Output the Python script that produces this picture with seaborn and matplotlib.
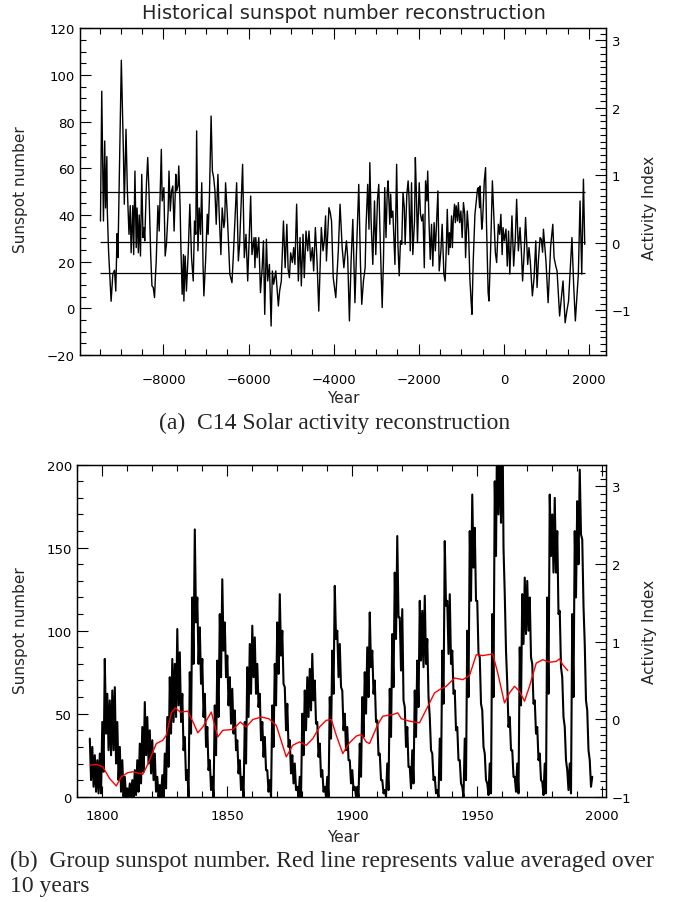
import numpy as np
import pandas as pd
import matplotlib
matplotlib.use("Agg")
import matplotlib.pyplot as plt
import seaborn as sns
from matplotlib.ticker import MultipleLocator

# ---------------------------------------------------------------------------
# (a) C14-based sunspot number reconstruction
# ---------------------------------------------------------------------------
c14_years = [
    -9480, -9450, -9410, -9380, -9360, -9330, -9320, -9290, -9230, -9190,
    -9150, -9120, -9090, -9070, -8990, -8940, -8920, -8880, -8850, -8810,
    -8780, -8760, -8720, -8700, -8670, -8640, -8620, -8590, -8570, -8540,
    -8510, -8480, -8460, -8440, -8400, -8370, -8340, -8300, -8270, -8240,
    -8210, -8190, -8170, -8130, -8100, -8050, -8030, -7990, -7960, -7930,
    -7890, -7870, -7840, -7810, -7780, -7750, -7710, -7690, -7660, -7640,
    -7610, -7590, -7560, -7530, -7520, -7490, -7460, -7420, -7380, -7340,
    -7300, -7270, -7240, -7220, -7190, -7160, -7130, -7100, -7070, -7050,
    -7010, -6970, -6950, -6920, -6880, -6850, -6820, -6790, -6760, -6720,
    -6690, -6650, -6620, -6580, -6560, -6540, -6500, -6440, -6390, -6360,
    -6280, -6240, -6210, -6140, -6100, -6060, -6020, -5990, -5950, -5920,
    -5870, -5850, -5830, -5800, -5760, -5720, -5680, -5650, -5620, -5580,
    -5550, -5510, -5470, -5440, -5410, -5360, -5300, -5270, -5230, -5180,
    -5140, -5100, -5070, -5040, -5010, -4970, -4940, -4910, -4870, -4830,
    -4790, -4760, -4720, -4690, -4650, -4610, -4580, -4540, -4500, -4470,
    -4430, -4390, -4350, -4290, -4250, -4220, -4190, -4170, -4110, -4080,
    -4050, -4010, -3950, -3890, -3850, -3800, -3760, -3700, -3670, -3630,
    -3590, -3550, -3500, -3460, -3410, -3370, -3340, -3300, -3260, -3240,
    -3200, -3170, -3150, -3120, -3080, -3040, -3010, -2970, -2940, -2910,
    -2860, -2830, -2800, -2770, -2740, -2720, -2680, -2660, -2640, -2610,
    -2590, -2560, -2520, -2490, -2460, -2430, -2400, -2370, -2340, -2320,
    -2280, -2250, -2230, -2200, -2170, -2140, -2100, -2080, -2060, -2030,
    -1990, -1960, -1930, -1900, -1870, -1840, -1810, -1790, -1760, -1730,
    -1700, -1670, -1640, -1610, -1580, -1550, -1520, -1480, -1450, -1410,
    -1380, -1350, -1330, -1300, -1280, -1260, -1230, -1210, -1190, -1160,
    -1140, -1120, -1090, -1070, -1040, -1010, -980, -950, -920, -900,
    -860, -830, -800, -770, -750, -720, -680, -620, -600, -570,
    -560, -520, -500, -460, -430, -410, -370, -350, -310, -270,
    -240, -200, -170, -130, -100, -70, -40, -20, 10, 50,
    80, 110, 140, 190, 230, 270, 300, 340, 380, 410,
    440, 480, 510, 560, 590, 620, 670, 710, 750, 780,
    810, 850, 880, 910, 930, 990, 1040, 1100, 1150, 1180,
    1220, 1250, 1310, 1360, 1390, 1440, 1480, 1520, 1600, 1640,
    1680, 1750, 1790, 1830, 1870, 1900,
]
c14_sunspots = [
    37.4, 93.0, 37.4, 71.7, 43.0, 65.0, 42.0, 24.6, 3.0, 14.6,
    16.3, 7.4, 32.0, 21.7, 106.3, 66.0, 44.6, 76.7, 51.7, 31.7,
    44.0, 23.8, 44.0, 23.0, 58.8, 26.0, 43.0, 23.8, 40.0, 22.4,
    57.4, 30.3, 34.6, 28.9, 53.1, 64.6, 50.3, 23.0, 9.6, 8.9,
    4.6, 13.1, 20.3, 44.0, 33.1, 68.1, 46.0, 51.7, 22.4, 27.4,
    41.7, 58.8, 41.7, 50.3, 52.4, 33.1, 57.4, 50.3, 52.4, 61.0,
    44.6, 26.0, 6.0, 23.0, 3.1, 22.4, 7.4, 23.0, 44.6, 21.7,
    11.7, 37.4, 31.7, 76.0, 24.6, 43.0, 31.7, 53.8, 18.8, 5.3,
    20.3, 40.3, 31.7, 47.4, 82.4, 58.8, 56.0, 50.3, 36.0, 57.4,
    40.3, 23.0, 43.0, 34.6, 37.4, 53.8, 40.3, 14.6, 11.0, 21.7,
    53.8, 20.3, 27.4, 61.7, 21.7, 31.7, 11.7, 27.4, 48.1, 23.0,
    30.3, 17.4, 30.3, 21.7, 30.3, 6.7, 17.4, 28.9, -2.6, 29.6,
    11.7, 18.8, -7.6, 16.0, 10.3, 16.0, 1.0, 7.4, 11.7, 37.4,
    17.4, 36.0, 16.7, 13.1, 23.8, 19.6, 26.0, 18.8, 44.6, 11.7,
    30.3, 9.6, 31.7, 13.1, 33.1, 24.6, 33.1, 20.3, 26.0, 16.0,
    34.6, 20.0, -1.2, 34.6, 24.6, 29.0, 39.6, 20.3, 43.1, 41.0,
    37.4, 13.1, 4.6, 25.0, 44.6, 26.0, 17.4, 28.9, 21.7, -5.4,
    20.3, 38.1, 2.4, 26.0, 53.1, 18.8, 1.7, 11.7, 17.4, 34.6,
    53.1, 33.9, 62.4, 37.4, 18.8, 46.0, 23.0, 46.7, 53.1, 31.7,
    0.3, 20.3, 51.7, 30.3, 50.3, 54.6, 36.0, 48.9, 38.9, 41.7,
    32.4, 18.8, 61.7, 27.4, 13.9, 28.9, 27.4, 49.6, 43.1, 27.4,
    48.9, 54.6, 48.1, 24.6, 53.8, 23.0, 37.4, 64.6, 51.7, 28.1,
    53.8, 40.3, 37.4, 40.3, 17.4, 54.6, 46.0, 58.8, 37.4, 21.0,
    36.0, 18.1, 36.7, 24.6, 37.4, 50.3, 16.0, 24.6, 36.0, 14.6,
    11.7, 27.4, 42.4, 23.0, 32.4, 26.0, 39.6, 26.0, 37.4, 44.6,
    36.7, 43.9, 37.4, 45.3, 36.7, 41.7, 30.3, 45.3, 40.3, 21.7,
    41.7, 33.1, 13.1, 3.1, -2.6, 20.3, 40.3, 51.0, 51.7, 43.1,
    52.4, 33.9, 37.4, 54.6, 60.3, 37.4, 6.7, 3.1, 26.0, 54.6,
    41.7, 23.8, 19.6, 36.0, 31.7, 40.3, 23.0, 34.6, 28.9, 33.9,
    18.1, 33.1, 14.6, 39.6, 18.1, 30.0, 46.7, 24.6, 34.6, 25.0,
    11.7, 25.0, 38.9, 18.8, 26.0, 20.3, 5.3, 13.1, 28.9, 8.9,
    20.0, 30.3, 29.6, 24.0, 33.9, 20.0, 2.4, 26.7, 36.0, 21.7,
    18.1, 16.0, -3.3, 6.0, 11.7, -6.2, -1.2, 3.1, 30.3, 10.0,
    -5.4, 14.6, 46.0, 14.6, 55.3, 27.4,
]
reference_levels = [50, 28.5, 15]

# ---------------------------------------------------------------------------
# (b) Group sunspot number, half-yearly values from 1795.0, and 10-yr mean
# ---------------------------------------------------------------------------
gsn_start = 1795.0
gsn_values = [
    35, 10, 30, 6, 25, 3, 22, 2, 26, 2,              # 1795-1799
    45, 15, 83, 38, 62, 28, 58, 25, 64, 28,          # 1800-1804
    66, 20, 45, 10, 30, 3, 22, 0, 12, 0,             # 1805-1809
    5, 0, 8, 0, 10, 0, 16, 1, 22, 3,                 # 1810-1814
    32, 8, 42, 15, 57, 25, 48, 20, 40, 14,           # 1815-1819
    34, 10, 26, 3, 12, 0, 7, 0, 13, 0,               # 1820-1824
    26, 5, 48, 18, 72, 38, 83, 45, 80, 48,           # 1825-1829
    101, 55, 87, 45, 62, 28, 36, 10, 16, 0,          # 1830-1834
    75, 38, 120, 80, 161, 105, 120, 80, 102, 68,     # 1835-1839
    83, 48, 62, 30, 42, 16, 22, 4, 12, 0,            # 1840-1844
    55, 25, 82, 48, 110, 72, 131, 88, 105, 72,       # 1845-1849
    85, 55, 72, 44, 65, 38, 52, 28, 34, 14,          # 1850-1854
    22, 4, 12, 0, 45, 20, 78, 48, 92, 62,            # 1855-1859
    103, 72, 96, 62, 80, 54, 62, 34, 45, 24,         # 1860-1864
    36, 16, 16, 3, 10, 0, 55, 30, 80, 55,            # 1865-1869
    105, 74, 122, 85, 100, 68, 66, 40, 56, 30,       # 1870-1874
    34, 14, 25, 8, 20, 4, 6, 0, 12, 0,               # 1875-1879
    50, 25, 64, 40, 72, 48, 77, 52, 86, 58,          # 1880-1884
    70, 44, 45, 24, 32, 12, 16, 3, 6, 0,             # 1885-1889
    12, 0, 60, 35, 88, 62, 127, 95, 100, 72,         # 1890-1894
    92, 66, 64, 40, 50, 28, 42, 22, 22, 8,           # 1895-1899
    16, 4, 6, 0, 6, 0, 32, 12, 60, 36,               # 1900-1904
    75, 50, 90, 60, 111, 78, 88, 62, 70, 45,         # 1905-1909
    46, 25, 26, 10, 10, 2, 4, 0, 20, 4,              # 1910-1914
    65, 36, 98, 66, 135, 95, 157, 108, 108, 76,      # 1915-1919
    113, 58, 54, 30, 42, 18, 18, 5, 28, 8,           # 1920-1924
    64, 36, 82, 54, 118, 82, 112, 78, 121, 80,       # 1925-1929
    95, 60, 48, 28, 26, 10, 12, 2, 4, 0,             # 1930-1934
    35, 10, 88, 56, 154, 115, 118, 86, 122, 80,      # 1935-1939
    88, 62, 64, 40, 42, 22, 22, 8, 6, 0,             # 1940-1944
    35, 10, 100, 60, 160, 118, 182, 138, 162, 118,   # 1945-1949
    118, 86, 84, 56, 52, 30, 26, 10, 8, 1,           # 1950-1954
    20, 2, 110, 60, 190, 145, 235, 170, 215, 165,    # 1955-1959
    245, 150, 122, 88, 68, 42, 48, 28, 28, 12,       # 1960-1964
    12, 3, 20, 2, 90, 55, 122, 92, 132, 98,          # 1965-1969
    130, 100, 120, 84, 80, 56, 58, 38, 42, 22,       # 1970-1974
    26, 10, 9, 1, 20, 2, 120, 62, 182, 145,          # 1975-1979
    170, 135, 180, 135, 160, 110, 112, 78, 72, 48,   # 1980-1984
    42, 22, 16, 4, 20, 2, 110, 60, 160, 120,         # 1985-1989
    178, 140, 197, 158, 155, 115, 92, 58, 52, 28,    # 1990-1994
    22, 6, 12,                                       # 1995-1996
]
avg_years = [
    1795.2, 1797.6, 1800.2, 1802.9, 1805.6, 1807.6, 1810.2, 1812.2, 1816.2,
    1818.2, 1821.6, 1824.2, 1825.6, 1827.6, 1829.2, 1831.2, 1834.2, 1836.6,
    1838.2, 1840.2, 1843.6, 1846.2, 1848.2, 1852.2, 1855.2, 1857.6, 1860.2,
    1863.6, 1866.6, 1869.6, 1873.6, 1876.2, 1878.9, 1881.6, 1884.2, 1886.9,
    1889.6, 1891.6, 1893.6, 1896.2, 1898.9, 1901.6, 1903.6, 1905.6, 1906.9,
    1908.2, 1910.2, 1912.2, 1916.2, 1918.2, 1919.6, 1922.9, 1926.9, 1929.6,
    1932.9, 1934.9, 1937.6, 1940.9, 1944.2, 1946.9, 1949.6, 1952.2, 1954.2,
    1956.2, 1958.2, 1960.9, 1962.9, 1964.9, 1966.9, 1968.9, 1970.9, 1973.6,
    1976.2, 1978.9, 1981.6, 1982.9, 1984.2, 1986.2,
]
avg_values = [
    19.0, 19.5, 18.0, 11.0, 6.5, 12.0, 14.5, 15.0, 13.5,
    19.5, 32.0, 34.0, 37.0, 50.5, 53.5, 51.0, 51.5, 44.0,
    38.5, 42.0, 51.0, 36.0, 40.0, 40.5, 45.0, 42.0, 46.5,
    48.0, 47.0, 43.0, 24.0, 31.0, 33.0, 31.0, 35.0, 42.0,
    46.0, 46.5, 37.0, 26.0, 32.5, 36.5, 37.5, 33.0, 32.0,
    36.5, 43.5, 48.5, 49.5, 50.5, 47.0, 45.5, 44.5, 52.5,
    62.5, 64.5, 66.5, 71.5, 70.5, 73.0, 85.5, 85.0, 85.5,
    86.0, 74.5, 56.5, 62.5, 66.5, 63.5, 57.5, 66.5, 80.5,
    82.5, 81.0, 81.5, 83.0, 79.5, 76.0,
]

# ---------------------------------------------------------------------------
sns.set_style("ticks")
plt.rcParams["font.family"] = ["DejaVu Sans"]
plt.rcParams["axes.linewidth"] = 0.9

TICK_FS = 9.5
LABEL_FS = 11
SERIF = ["Liberation Serif", "DejaVu Serif"]
CAPTION_FS = 17

fig = plt.figure(figsize=(6.74, 9.03), dpi=100)


def style_axes(ax, twin, xmajor, xminor, ymajor, yminor, rmajor, rminor,
               xpad):
    ax.xaxis.set_major_locator(MultipleLocator(xmajor))
    ax.xaxis.set_minor_locator(MultipleLocator(xminor))
    ax.yaxis.set_major_locator(MultipleLocator(ymajor))
    ax.yaxis.set_minor_locator(MultipleLocator(yminor))
    twin.yaxis.set_major_locator(MultipleLocator(rmajor))
    twin.yaxis.set_minor_locator(MultipleLocator(rminor))
    for a in (ax, twin):
        for sp in a.spines.values():
            sp.set_linewidth(0.9)
            sp.set_color("black")
    ax.tick_params(which="both", direction="in", top=True, bottom=True,
                   left=True, right=False, colors="black", width=0.8,
                   labelsize=TICK_FS)
    ax.tick_params(which="major", length=8)
    ax.tick_params(which="minor", length=4)
    ax.tick_params(axis="x", pad=xpad)
    ax.tick_params(axis="y", pad=4)
    twin.tick_params(which="both", direction="in", left=False, right=True,
                     colors="black", width=0.8, labelsize=TICK_FS, pad=4)
    twin.tick_params(which="major", length=8)
    twin.tick_params(which="minor", length=4)
    ax.set_xlabel("")
    ax.set_ylabel("")
    ax.grid(False)
    twin.grid(False)


# ----- panel (a) -----
ax1 = fig.add_axes([0.1194, 0.6058, 0.7797, 0.3618])
c14 = pd.DataFrame({"Year": c14_years, "Sunspots": c14_sunspots})
sns.lineplot(data=c14, x="Year", y="Sunspots", ax=ax1, color="black",
             linewidth=1.0, estimator=None, sort=False)
ax1.hlines(reference_levels, c14_years[0], c14_years[-1],
           colors="black", linewidth=0.9)
ax1.set_xlim(-9950, 2400)
ax1.set_ylim(-20, 120)
ax1r = ax1.twinx()
ax1r.set_ylim(-1.66, 3.18)
style_axes(ax1, ax1r, 2000, 500, 20, 5, 1, 0.1, xpad=13)

fig.text(0.510, 0.985, "Historical sunspot number reconstruction",
         ha="center", va="center", fontsize=14)
fig.text(0.030, 0.790, "Sunspot number", rotation=90, ha="center",
         va="center", fontsize=LABEL_FS)
fig.text(0.963, 0.770, "Activity Index", rotation=90, ha="center",
         va="center", fontsize=LABEL_FS)
fig.text(0.509, 0.559, "Year", ha="center", va="center", fontsize=LABEL_FS)
fig.text(0.497, 0.531, "(a)  C14 Solar activity reconstruction",
         ha="center", va="center", fontsize=CAPTION_FS, family=SERIF)

# ----- panel (b) -----
ax2 = fig.add_axes([0.1147, 0.1166, 0.7844, 0.3677])
gsn_years = gsn_start + 0.5 * np.arange(len(gsn_values))
gsn = pd.DataFrame({"Year": gsn_years, "Sunspots": gsn_values})
avg = pd.DataFrame({"Year": avg_years, "Sunspots": avg_values})
sns.lineplot(data=gsn, x="Year", y="Sunspots", ax=ax2, color="black",
             linewidth=1.5, estimator=None, sort=False)
sns.lineplot(data=avg, x="Year", y="Sunspots", ax=ax2, color="red",
             linewidth=1.0, estimator=None, sort=False)
ax2.set_xlim(1790, 2001.5)
ax2.set_ylim(0, 200)
ax2r = ax2.twinx()
ax2r.set_ylim(-1.0, 3.28)
style_axes(ax2, ax2r, 50, 10, 50, 10, 1, 0.1, xpad=9)

fig.text(0.030, 0.302, "Sunspot number", rotation=90, ha="center",
         va="center", fontsize=LABEL_FS)
fig.text(0.963, 0.300, "Activity Index", rotation=90, ha="center",
         va="center", fontsize=LABEL_FS)
fig.text(0.509, 0.073, "Year", ha="center", va="center", fontsize=LABEL_FS)
fig.text(0.015, 0.046,
         "(b)  Group sunspot number. Red line represents value averaged over",
         ha="left", va="center", fontsize=CAPTION_FS, family=SERIF)
fig.text(0.015, 0.018, "10 years", ha="left", va="center",
         fontsize=CAPTION_FS, family=SERIF)

fig.savefig("out.png", dpi=100)
